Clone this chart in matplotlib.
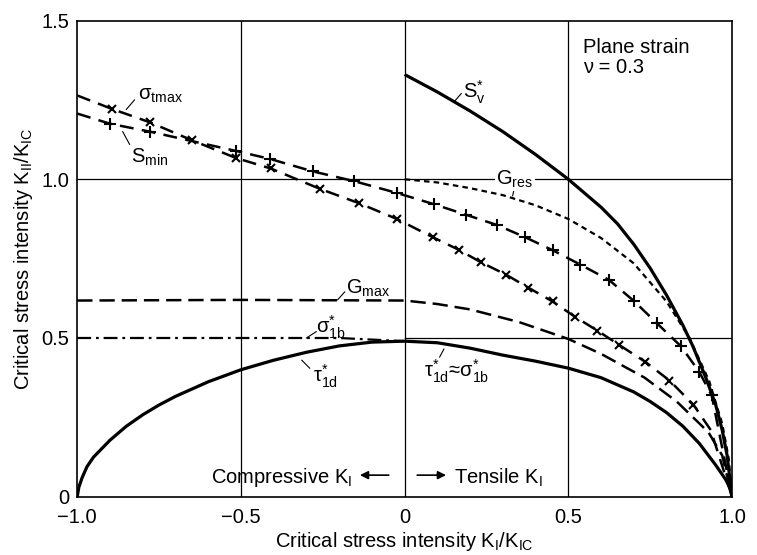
import numpy as np
import matplotlib
matplotlib.use("Agg")
import matplotlib.pyplot as plt

plt.rcParams['font.family'] = ['Liberation Sans', 'DejaVu Sans']
plt.rcParams['mathtext.fontset'] = 'custom'
plt.rcParams['mathtext.rm'] = 'Liberation Sans'
plt.rcParams['mathtext.it'] = 'Liberation Sans:italic'
plt.rcParams['lines.scale_dashes'] = False

# curves (KI/KIc, KII/KIc)
sv_x = [0.0, 0.1, 0.2, 0.3, 0.4, 0.5, 0.6, 0.65, 0.7, 0.75, 0.8, 0.85, 0.88, 0.92,
        0.95, 0.97, 0.985, 1.0]
sv_y = [1.33, 1.275, 1.215, 1.15, 1.078, 1.0, 0.912, 0.86, 0.795, 0.72, 0.635, 0.54,
        0.475, 0.375, 0.29, 0.21, 0.13, 0.0]

gres_x = [0.0, 0.1, 0.2, 0.3, 0.4, 0.5, 0.6, 0.7, 0.8, 0.87, 0.93, 0.97, 0.99, 1.0]
gres_y = [1.0, 0.99, 0.972, 0.95, 0.918, 0.875, 0.815, 0.735, 0.615, 0.5, 0.365, 0.23,
          0.12, 0.0]

smin_x = [-1.0, -0.9, -0.778, -0.514, -0.411, -0.281, -0.154, -0.024, 0.091, 0.188,
          0.282, 0.369, 0.453, 0.537, 0.624, 0.70, 0.77, 0.844, 0.90, 0.938, 1.0]
smin_y = [1.207, 1.175, 1.15, 1.089, 1.064, 1.025, 0.994, 0.957, 0.921, 0.888,
          0.856, 0.817, 0.776, 0.731, 0.683, 0.617, 0.547, 0.474, 0.393, 0.319, 0.0]

stmax_x = [-1.0, -0.895, -0.777, -0.65, -0.515, -0.409, -0.259, -0.138, -0.024, 0.087,
           0.165, 0.234, 0.309, 0.377, 0.452, 0.52, 0.589, 0.654, 0.735, 0.809, 0.882,
           0.935, 1.0]
stmax_y = [1.264, 1.222, 1.179, 1.123, 1.067, 1.034, 0.97, 0.924, 0.875, 0.817,
           0.778, 0.738, 0.70, 0.659, 0.615, 0.567, 0.523, 0.479, 0.425, 0.366, 0.29,
           0.21, 0.0]

gmax_x = [-1.0, -0.5, 0.0, 0.1, 0.2, 0.35, 0.5, 0.6, 0.733, 0.831, 0.928, 0.97, 1.0]
gmax_y = [0.618, 0.62, 0.618, 0.607, 0.59, 0.55, 0.497, 0.45, 0.375, 0.30, 0.203,
          0.13, 0.0]

s1b_x = [-1.0, -0.5, -0.2, -0.1, 0.0]
s1b_y = [0.5, 0.5, 0.5, 0.495, 0.49]

tau_x = [-1.0, -0.995, -0.985, -0.97, -0.95, -0.9, -0.85, -0.8, -0.75, -0.7, -0.6,
         -0.5, -0.4, -0.3, -0.2, -0.1, 0.0, 0.1, 0.2, 0.3, 0.4, 0.5, 0.6, 0.7,
         0.75, 0.8, 0.85, 0.9, 0.95, 0.98, 0.995, 1.0]
tau_y = [0.0, 0.03, 0.06, 0.095, 0.125, 0.178, 0.222, 0.258, 0.289, 0.316, 0.362,
         0.4, 0.43, 0.455, 0.475, 0.487, 0.49, 0.485, 0.468, 0.446, 0.427, 0.405,
         0.375, 0.33, 0.3, 0.265, 0.222, 0.168, 0.1, 0.055, 0.025, 0.0]

xticks = [-1.0, -0.5, 0.0, 0.5, 1.0]
xtick_labels = ['\u22121.0', '\u22120.5', '0', '0.5', '1.0']
yticks = [0.0, 0.5, 1.0, 1.5]
ytick_labels = ['0', '0.5', '1.0', '1.5']

fig = plt.figure(figsize=(7.57, 5.55), dpi=100)
ax = fig.add_axes([0.102, 0.105, 0.865, 0.858])
ax.set_xlim(-1, 1)
ax.set_ylim(0, 1.5)

# grid
for gx in [-0.5, 0.0, 0.5]:
    ax.axvline(gx, color='black', lw=0.9, zorder=1)
ax.axhline(1.0, color='black', lw=0.9, zorder=1)
ax.axhline(0.5, xmin=0.5, xmax=1.0, color='black', lw=0.9, zorder=1)

ax.plot(sv_x, sv_y, color='black', lw=2.3, solid_capstyle='butt', zorder=3)
ax.plot(gres_x, gres_y, color='black', lw=1.6, dashes=(4, 3), zorder=3)
ax.plot(smin_x, smin_y, color='black', lw=1.8, dashes=(10, 6), marker='+',
        markersize=8, markeredgewidth=1.5, markevery=slice(1, -1), zorder=3)
ax.plot(stmax_x, stmax_y, color='black', lw=1.8, dashes=(10, 6), marker='x',
        markersize=6, markeredgewidth=1.5, markevery=slice(1, -2), zorder=3)
ax.plot(gmax_x, gmax_y, color='black', lw=1.8, dashes=(11, 5), zorder=3)
ax.plot(s1b_x, s1b_y, color='black', lw=1.6, dashes=(10, 3.5, 2, 3.5), zorder=3)
ax.plot(tau_x, tau_y, color='black', lw=2.3, zorder=3)

fs = 14.5
# curve labels with short leaders
ax.text(-0.815, 1.265, 'σ$_{\\mathrm{tmax}}$', fontsize=fs, va='center', ha='left')
ax.plot([-0.85, -0.825], [1.22, 1.25], color='black', lw=0.8)
ax.text(-0.837, 1.07, 'S$_{\\mathrm{min}}$', fontsize=fs, va='center', ha='left')
ax.plot([-0.861, -0.84], [1.15, 1.11], color='black', lw=0.8)
ax.text(0.177, 1.275, 'S$^{*}_{\\mathrm{v}}$', fontsize=fs, va='center', ha='left')
ax.plot([0.152, 0.173], [1.245, 1.27], color='black', lw=0.8)
ax.text(0.336, 1.0, 'G$_{\\mathrm{res}}$', fontsize=fs, va='center', ha='center',
        bbox=dict(facecolor='white', edgecolor='none', pad=1), zorder=4)
ax.plot([0.335, 0.33], [0.972, 0.948], color='black', lw=0.8)
ax.text(0.545, 1.445, 'Plane strain\nν = 0.3', fontsize=fs, va='top', ha='left',
        linespacing=1.1)
ax.text(-0.18, 0.655, 'G$_{\\mathrm{max}}$', fontsize=fs, va='center', ha='left')
ax.plot([-0.205, -0.183], [0.62, 0.645], color='black', lw=0.8)
ax.text(-0.27, 0.535, 'σ$^{*}_{\\mathrm{1b}}$', fontsize=fs, va='center', ha='left')
ax.plot([-0.30, -0.27], [0.50, 0.52], color='black', lw=0.8)
ax.text(-0.28, 0.38, 'τ$^{*}_{\\mathrm{1d}}$', fontsize=fs, va='center', ha='left')
ax.plot([-0.314, -0.29], [0.43, 0.405], color='black', lw=0.8)
ax.text(0.06, 0.395, 'τ$^{*}_{\\mathrm{1d}}$≈σ$^{*}_{\\mathrm{1b}}$', fontsize=fs,
        va='center', ha='left')
ax.plot([0.12, 0.107], [0.465, 0.44], color='black', lw=0.8)

# compressive / tensile arrows
ax.text(-0.16, 0.06, 'Compressive K$_{\\mathrm{I}}$', fontsize=fs, va='center', ha='right')
ax.annotate('', xy=(-0.145, 0.068), xytext=(-0.04, 0.068),
            arrowprops=dict(arrowstyle='-|>', color='black', lw=1.2, mutation_scale=12))
ax.annotate('', xy=(0.135, 0.068), xytext=(0.03, 0.068),
            arrowprops=dict(arrowstyle='-|>', color='black', lw=1.2, mutation_scale=12))
ax.text(0.15, 0.06, 'Tensile K$_{\\mathrm{I}}$', fontsize=fs, va='center', ha='left')

ax.set_xticks(xticks)
ax.set_xticklabels(xtick_labels)
ax.set_yticks(yticks)
ax.set_yticklabels(ytick_labels)
ax.tick_params(length=0, labelsize=fs)
ax.tick_params(axis='x', pad=8)
ax.tick_params(axis='y', pad=6)
for sp in ax.spines.values():
    sp.set_linewidth(1.2)

ax.set_xlabel('Critical stress intensity K$_{\\mathrm{I}}$/K$_{\\mathrm{IC}}$', fontsize=fs,
              labelpad=2)
ax.set_ylabel('Critical stress intensity K$_{\\mathrm{II}}$/K$_{\\mathrm{IC}}$', fontsize=fs,
              labelpad=4)

fig.savefig('out.png', dpi=100, facecolor='white')
